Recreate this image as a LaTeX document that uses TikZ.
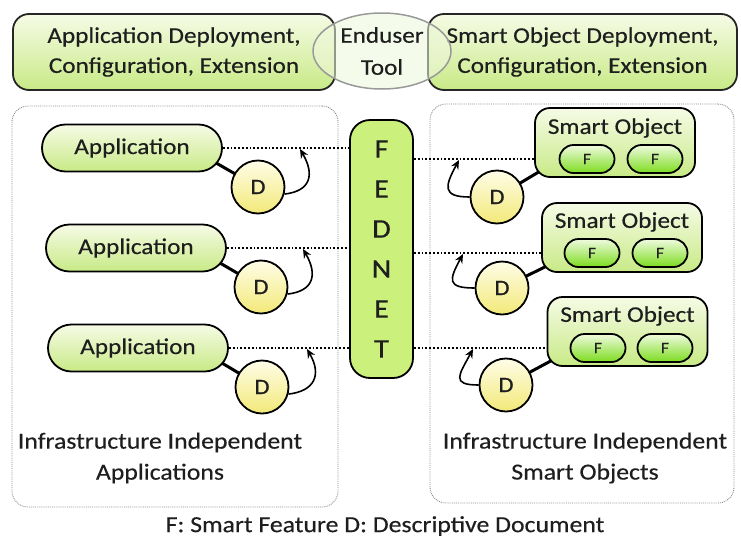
\documentclass[tikz,border=0pt]{standalone}
\usepackage{fontspec}
\setmainfont{Carlito}[FakeStretch=1.12,FakeBold=0.35]
\usetikzlibrary{shapes.geometric,shapes.misc,arrows.meta,backgrounds}
\definecolor{txt}{HTML}{1E1E1E}
\definecolor{gTop}{HTML}{F6FBE6}
\definecolor{gBot}{HTML}{C8EA86}
\definecolor{pTop}{HTML}{F0FBE0}
\definecolor{pBot}{HTML}{7CDC1E}
\definecolor{dTop}{HTML}{FFFDE8}
\definecolor{dBot}{HTML}{F2E978}
\definecolor{fed}{HTML}{CBF07C}
\definecolor{toolfill}{HTML}{EEF8DC}
\tikzset{
  topbox/.style={draw=black!85, line width=1.8pt, rounded corners=16pt, top color=gTop, bottom color=gBot,
    minimum height=76pt, align=center, text=txt, inner sep=0pt, font=\fontsize{22.5}{30}\selectfont},
  appbox/.style={rounded rectangle, draw=black, line width=1.8pt, top color=gTop, bottom color=gBot,
    minimum height=47pt, minimum width=180pt, inner sep=0pt, text=txt, font=\fontsize{22.5}{25}\selectfont},
  sobox/.style={draw=black, line width=1.8pt, rounded corners=15pt, top color=gTop, bottom color=gBot,
    minimum width=160pt, minimum height=69pt, inner sep=0pt},
  sotext/.style={text=txt, inner sep=0pt, font=\fontsize{22.5}{25}\selectfont},
  pill/.style={rounded rectangle, draw=black, line width=1.8pt, top color=pTop, bottom color=pBot,
    minimum width=55pt, minimum height=28pt, inner sep=0pt, text=txt, font=\fontsize{16}{18}\selectfont},
  dcirc/.style={circle, draw=black, line width=1.8pt, top color=dTop, bottom color=dBot,
    minimum size=53pt, inner sep=0pt, text=txt, font=\fontsize{22}{25}\selectfont},
  container/.style={draw=black!45, densely dotted, line width=0.9pt, rounded corners=16pt, inner sep=0pt},
  conn/.style={draw=black, line width=3pt},
  dotline/.style={draw=black, line width=1.8pt, dotted},
  curvarrow/.style={draw=black, line width=1.6pt, -{Stealth[length=9pt,width=8pt]}},
  plain/.style={text=txt, inner sep=0pt, align=center, font=\fontsize{23}{31}\selectfont},
}
\begin{document}
\begin{tikzpicture}[x=1pt,y=-1pt]
\useasboundingbox (0,0) rectangle (741,541);
\begin{scope}[on background layer]
\fill[white] (0,0) rectangle (741,541);
\end{scope}

% containers
\node[container, minimum width=326pt, minimum height=401pt] (lc) at (175,306.5) {};
\node[container, minimum width=304pt, minimum height=399pt] (rc) at (582,303.5) {};

% top row
\node[topbox, minimum width=322pt] (appdep) at (174,52) {Application Deployment,\\Configuration, Extension};
\node[topbox, minimum width=309pt] (sodep) at (582.5,52) {Smart Object Deployment,\\Configuration, Extension};
\node[ellipse, draw=black!40, line width=1.5pt, fill=toolfill, fill opacity=0.55, text opacity=1,
  minimum width=138pt, minimum height=76pt, inner sep=0pt, align=center, text=txt,
  font=\fontsize{22.5}{32}\selectfont] (tool) at (382,51) {Enduser\\Tool};

% FEDNET
\node[draw=black, line width=1.8pt, rounded corners=20pt, fill=fed, minimum width=63pt, minimum height=258pt,
  inner sep=0pt, align=center, text=txt, font=\fontsize{27}{40}\selectfont] (fednet) at (381.5,249) {F\\E\\D\\N\\E\\T};

% applications
\node[appbox] (app1) at (132,148) {Application};
\node[appbox] (app2) at (136,248) {Application};
\node[appbox] (app3) at (138,348) {Application};
\node[dcirc] (d1) at (258,187) {D};
\node[dcirc] (d2) at (261,287) {D};
\node[dcirc] (d3) at (262,387) {D};

% smart objects
\node[sobox] (so1) at (615,142.5) {};
\node[sobox] (so2) at (622,237.5) {};
\node[sobox] (so3) at (627.5,331.5) {};
\node[sotext] (so1t) at (615,128) {Smart Object};
\node[sotext] (so2t) at (622,222) {Smart Object};
\node[sotext] (so3t) at (627.5,316) {Smart Object};
\node[pill] (f11) at (587,159) {F};
\node[pill] (f12) at (655,159) {F};
\node[pill] (f21) at (592,253) {F};
\node[pill] (f22) at (660,253) {F};
\node[pill] (f31) at (598,348) {F};
\node[pill] (f32) at (665,348) {F};
\node[dcirc] (e1) at (497,197) {D};
\node[dcirc] (e2) at (502,288) {D};
\node[dcirc] (e3) at (506,385) {D};

% thick connectors behind nodes
\begin{scope}[on background layer]
\draw[conn] (d1.center) -- ([xshift=-12pt,yshift=-12pt]app1.east);
\draw[conn] (d2.center) -- ([xshift=-12pt,yshift=-12pt]app2.east);
\draw[conn] (d3.center) -- ([xshift=-12pt,yshift=-12pt]app3.east);
\draw[conn] (e1.center) -- ([xshift=8pt,yshift=8pt]so1.south west);
\draw[conn] (e2.center) -- ([xshift=8pt,yshift=8pt]so2.south west);
\draw[conn] (e3.center) -- ([xshift=8pt,yshift=8pt]so3.south west);
\end{scope}

% dotted links
\draw[dotline] (app1.east) -- (fednet.west |- app1.east);
\draw[dotline] (app2.east) -- (fednet.west |- app2.east);
\draw[dotline] (app3.east) -- (fednet.west |- app3.east);
\draw[dotline] (fednet.east |- f11) -- (so1.west |- f11);
\draw[dotline] (fednet.east |- f21) -- (so2.west |- f21);
\draw[dotline] (fednet.east |- f31) -- (so3.west |- f31);

% curved arrows
\coordinate (a1) at (300,149);
\coordinate (a2) at (303,249);
\coordinate (a3) at (307,349);
\coordinate (b1) at (459,160);
\coordinate (b2) at (463,254);
\coordinate (b3) at (473,349);
\draw[curvarrow] (d1.-15) .. controls +(26,-3) and +(15,26) .. (a1);
\draw[curvarrow] (d2.-15) .. controls +(26,-3) and +(15,26) .. (a2);
\draw[curvarrow] (d3.-15) .. controls +(26,-3) and +(15,26) .. (a3);
\draw[curvarrow] (e1.west) .. controls +(-28,0) and +(-14,26) .. (b1);
\draw[curvarrow] (e2.west) .. controls +(-28,0) and +(-14,26) .. (b2);
\draw[curvarrow] (e3.west) .. controls +(-28,0) and +(-14,26) .. (b3);

% labels
\node[plain] (llab) at (160,458) {Infrastructure Independent\\Applications};
\node[plain] (rlab) at (585,458) {Infrastructure Independent\\Smart Objects};
\node[plain] (cap) at (385,526) {F: Smart Feature D: Descriptive Document};
\end{tikzpicture}
\end{document}
